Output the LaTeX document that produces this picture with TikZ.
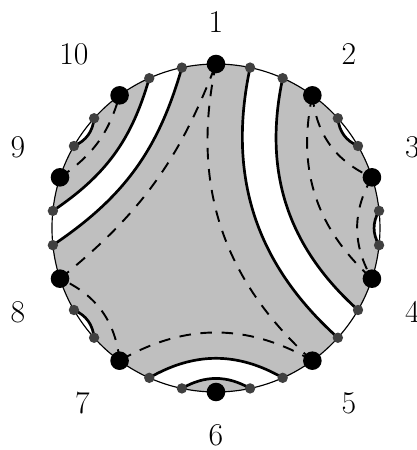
\documentclass[tikz,border=0pt]{standalone}
\usepackage{tikz}
\usetikzlibrary{backgrounds}

\tikzset{
  bigdot/.style={circle, fill=black, inner sep=0pt, minimum size=0.34cm},
  smalldot/.style={circle, fill=black!75, inner sep=0pt, minimum size=0.19cm},
  cut/.style={line width=1.4pt},
  link/.style={line width=1pt, dash pattern=on 6pt off 5pt},
}

\begin{document}
\begin{tikzpicture}[font=\fontsize{16.5}{20}\selectfont]
\def\R{3}
\useasboundingbox (-3.951,-4.061) rectangle (3.677,4.171);
% dots on the circle
\foreach \k in {1,...,10} {
  \pgfmathsetmacro{\a}{90-36*(\k-1)}
  \node[smalldot] (l\k) at (\a+12:\R) {};
  \node[smalldot] (r\k) at (\a-12:\R) {};
  \node[bigdot] (v\k) at (\a:\R) {};
}
% labels
\foreach \k/\x/\y in {1/0/3.759, 2/2.433/3.183, 3/3.595/1.482, 4/3.595/-1.537,
  5/2.433/-3.201, 6/0/-3.79, 7/-2.442/-3.201, 8/-3.622/-1.537,
  9/-3.622/1.482, 10/-2.598/3.183}
  \node (n\k) at (\x,\y) {\k};

\begin{pgfonlayer}{background}
% shaded disk with white bands
\fill[gray!50] (0,0) circle (\R);
\fill[white] (l9.center) to[bend right=20] (r10.center) arc[start angle=114, end angle=102, radius=\R]
  to[bend left=20] (r8.center) arc[start angle=186, end angle=174, radius=\R] -- cycle;
\fill[white] (r1.center) to[bend right] (l5.center) arc[start angle=-42, end angle=-30, radius=\R]
  to[bend left] (l2.center) arc[start angle=66, end angle=78, radius=\R] -- cycle;
\fill[white] (r5.center) to[bend right] (l7.center) arc[start angle=-114, end angle=-66, radius=\R] -- cycle;
\fill[gray!50] (l6.center) to[bend right] (r6.center) arc[start angle=-102, end angle=-78, radius=\R] -- cycle;
\foreach \p/\q/\s in {r9/l10/150, r2/l3/42, r3/l4/6, r7/l8/-138}
  \fill[white] (\p.center) to[bend right] (\q.center) arc[start angle=\s-12, end angle=\s, radius=\R] -- cycle;
% thick arcs
\draw[cut] (l9.center) to[bend right=20] (r10.center);
\draw[cut] (r8.center) to[bend right=20] (l1.center);
\draw[cut] (r1.center) to[bend right] (l5.center);
\draw[cut] (l2.center) to[bend right] (r4.center);
\draw[cut] (r5.center) to[bend right] (l7.center);
\draw[cut] (l6.center) to[bend right] (r6.center);
\foreach \p/\q in {r9/l10, r2/l3, r3/l4, r7/l8}
  \draw[cut] (\p.center) to[bend right] (\q.center);
% dashed arcs
\draw[link] (v1.center) to[bend right] (v5.center);
\draw[link] (v8.center) to[bend right=15] (v1.center);
\draw[link] (v7.center) to[bend right] (v8.center);
\draw[link] (v5.center) to[bend right] (v7.center);
\draw[link] (v9.center) to[bend right=20] (v10.center);
\draw[link] (v2.center) to[bend right] (v3.center);
\draw[link] (v2.center) to[bend right] (v4.center);
\draw[link] (v3.center) to[bend right] (v4.center);
% circle
\draw[semithick] (0,0) circle (\R);
\end{pgfonlayer}
\end{tikzpicture}
\end{document}
